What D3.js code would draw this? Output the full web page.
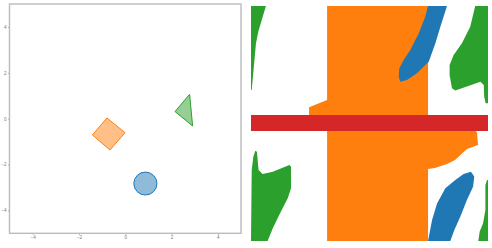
<!DOCTYPE html>
<html>
<head>
<meta charset="utf-8">
<script src="https://cdn.jsdelivr.net/npm/d3@7"></script>
<style>
  body { margin: 0; background: #fff; }
  svg { display: block; font-family: "DejaVu Sans", sans-serif; }
</style>
</head>
<body>
<svg id="chart" width="492" height="248"></svg>
<script>
// workspace (left panel), data units
var ticks = [-4, -2, 0, 2, 4];
var circleCenter = [0.87, -2.83];
var circleRadius = 0.5;
var diamond = [[-0.79, 0.03], [-0.01, -0.61], [-0.66, -1.37], [-1.42, -0.71]];
var triangle = [[2.78, 1.06], [2.15, 0.31], [2.91, -0.32]];

// configuration space (right panel), percent of grid
var orangeRegion = [[32.1, 0], [74.7, 0], [74.7, 53.2], [94.9, 53.2], [95.4, 54.0], [95.8, 59.1],
  [91.1, 60.9], [86.1, 65.5], [82.7, 67.2], [77.6, 68.9], [74.7, 69.4], [74.7, 100], [32.1, 100],
  [32.1, 46.4], [24.5, 46.4], [24.5, 43.1], [32.1, 40.0]];
var blueTop = [[74.7, 0], [82.7, 0], [79.9, 8.8], [77.8, 15.9], [75.0, 23.7], [70.0, 28.6],
  [65.8, 31.5], [63.0, 32.2], [62.3, 30.1], [62.6, 26.5], [64.4, 23.0], [67.2, 18.7], [70.8, 11.6], [73.5, 4.6]];
var blueBottom = [[92.8, 70.5], [94.2, 72.6], [93.7, 76.9], [91.1, 82.6], [88.3, 89.7], [85.8, 95.3],
  [84.1, 100], [74.7, 100], [76.4, 91.1], [78.5, 84.0], [82.0, 77.6], [86.2, 74.0], [89.7, 71.5]];
var greenTopLeft = [[0, 0], [6.3, 0], [3.1, 10.9], [2.1, 15.9], [0.3, 35.7], [0, 35.7]];
var greenTopRight = [[94.6, 0], [92.5, 8.8], [89.0, 15.9], [85.5, 20.9], [83.8, 25.1], [83.8, 29.4],
  [84.8, 35.0], [86.2, 36.0], [91.1, 34.3], [96.8, 32.2], [98.2, 33.6], [98.4, 38.6], [99.0, 41.4],
  [100, 41.4], [100, 0]];
var greenBottomLeft = [[1.8, 61.6], [2.5, 62.0], [3.2, 69.8], [4.9, 71.5], [9.2, 70.5], [16.2, 67.7],
  [16.9, 68.4], [16.9, 77.6], [15.5, 81.8], [11.9, 88.9], [9.2, 94.6], [7.0, 100], [0, 100],
  [0.3, 69.8], [1.0, 64.1]];
var greenBottomRight = [[99.6, 74.0], [98.9, 76.2], [98.9, 86.8], [97.9, 92.5], [96.5, 96.0],
  [95.9, 100], [100, 100], [100, 74.0]];
var redBand = [[0, 46.4], [100, 46.4], [100, 53.2], [0, 53.2]];

var blue = "#1f77b4", orange = "#ff7f0e", green = "#2ca02c", red = "#d62728";

var svg = d3.select("#chart");

// ---- left panel
var x = d3.scaleLinear().domain([-5, 5]).range([9.5, 241]);
var y = d3.scaleLinear().domain([-5, 5]).range([233.3, 4]);

var left = svg.append("g");

var xAxis = left.append("g")
  .attr("transform", "translate(0," + y(-5) + ")")
  .call(d3.axisBottom(x).tickValues(ticks).tickSize(1.5).tickPadding(1.5)
    .tickFormat(function(d) { return d < 0 ? "\u2212" + (-d) : d; }));
var yAxis = left.append("g")
  .attr("transform", "translate(" + x(-5) + ",0)")
  .call(d3.axisLeft(y).tickValues(ticks).tickSize(1.5).tickPadding(1.5)
    .tickFormat(function(d) { return d < 0 ? "\u2212" + (-d) : d; }));
[xAxis, yAxis].forEach(function(a) {
  a.select(".domain").remove();
  a.selectAll("line").attr("stroke", "#999").attr("stroke-width", 0.8);
  a.selectAll("text").attr("fill", "#777").style("font-size", "4.5px");
});

left.append("rect")
  .attr("x", x(-5)).attr("y", y(5))
  .attr("width", x(5) - x(-5)).attr("height", y(-5) - y(5))
  .attr("fill", "none").attr("stroke", "#bbb").attr("stroke-width", 1.4);

var poly = d3.line().x(function(d) { return x(d[0]); }).y(function(d) { return y(d[1]); })
  .curve(d3.curveLinearClosed);

left.append("path").attr("d", poly(diamond))
  .attr("fill", orange).attr("fill-opacity", 0.5).attr("stroke", orange).attr("stroke-width", 1);
left.append("path").attr("d", poly(triangle))
  .attr("fill", green).attr("fill-opacity", 0.5).attr("stroke", green).attr("stroke-width", 1);
left.append("ellipse")
  .attr("cx", x(circleCenter[0])).attr("cy", y(circleCenter[1]))
  .attr("rx", x(circleRadius) - x(0)).attr("ry", y(0) - y(circleRadius))
  .attr("fill", blue).attr("fill-opacity", 0.5).attr("stroke", blue).attr("stroke-width", 1);

// ---- right panel
var u = d3.scaleLinear().domain([0, 100]).range([251, 488]);
var v = d3.scaleLinear().domain([0, 100]).range([6, 241]);
var cpoly = d3.line().x(function(d) { return u(d[0]); }).y(function(d) { return v(d[1]); })
  .curve(d3.curveLinearClosed);

var right = svg.append("g");
[
  [orangeRegion, orange],
  [blueTop, blue], [blueBottom, blue],
  [greenTopLeft, green], [greenTopRight, green], [greenBottomLeft, green], [greenBottomRight, green],
  [redBand, red]
].forEach(function(r) {
  right.append("path").attr("d", cpoly(r[0])).attr("fill", r[1]);
});
</script>
</body>
</html>
